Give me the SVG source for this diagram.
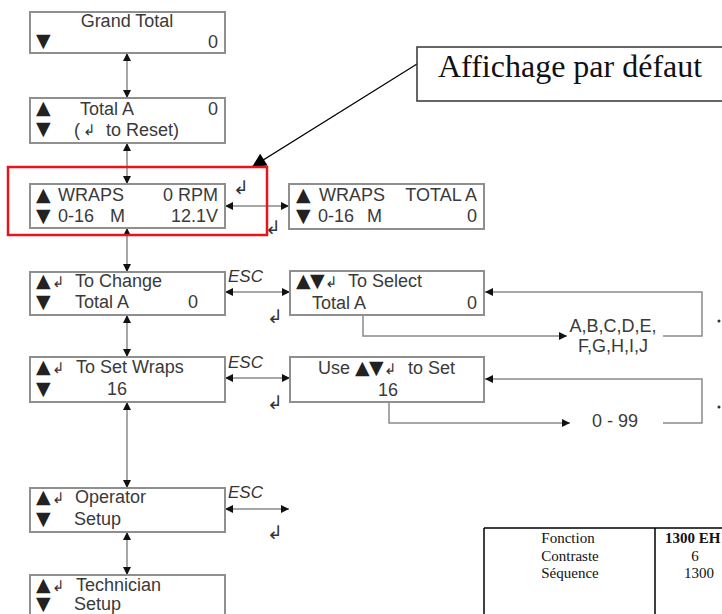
<svg xmlns="http://www.w3.org/2000/svg" width="722" height="614" viewBox="0 0 722 614">
<defs>
<style>
.box{fill:#fff;stroke:#8f8f8f;stroke-width:2}
.t{font-family:"Liberation Sans",Arial,sans-serif;font-size:18px;fill:#3a3a3a}
.sym{font-family:"DejaVu Sans",sans-serif;font-size:19px;fill:#222}
.ent{font-family:"DejaVu Sans",sans-serif;font-size:15px;fill:#333}
.ent2{font-family:"DejaVu Sans",sans-serif;font-size:19px;fill:#333}
.esc{font-family:"Liberation Sans",Arial,sans-serif;font-size:17px;font-style:italic;fill:#333}
.r{text-anchor:end}
.m{text-anchor:middle}
.ln{fill:none;stroke:#8a8a8a;stroke-width:1.5}
.bi{marker-start:url(#ah);marker-end:url(#ah)}
.one{marker-end:url(#ah)}
.tab{font-family:"Liberation Serif","Times New Roman",serif;font-size:15px;fill:#111}
</style>
<marker id="ah" viewBox="0 0 10 10" refX="10" refY="5" markerWidth="10" markerHeight="8" markerUnits="userSpaceOnUse" orient="auto-start-reverse">
<path d="M0,0 L10,5 L0,10 z" fill="#111"/>
</marker>
<marker id="big" viewBox="0 0 10 10" refX="10" refY="5" markerWidth="18" markerHeight="14" markerUnits="userSpaceOnUse" orient="auto">
<path d="M0,0 L10,5 L0,10 z" fill="#000"/>
</marker>
</defs>
<rect width="722" height="614" fill="#fff"/>

<g id="connectors">
<path class="ln bi" d="M127,53 V98"/>
<path class="ln bi" d="M127,143 V184"/>
<path class="ln bi" d="M127,228 V272"/>
<path class="ln bi" d="M127,315 V357"/>
<path class="ln bi" d="M127,402 V488"/>
<path class="ln bi" d="M127,532 V575"/>
<path class="ln bi" d="M225,206 H289"/>
<path class="ln bi" d="M225,292 H290"/>
<path class="ln bi" d="M225,378 H290"/>
<path class="ln bi" d="M225,509 H289"/>
<path class="ln one" d="M363,315 V336 H567"/>
<path class="ln one" d="M663,336 H702 V292 H485"/>
<path class="ln one" d="M389,402 V423 H570"/>
<path class="ln one" d="M663,423 H702 V379 H485"/>
<path d="M417,64 L252,167" fill="none" stroke="#000" stroke-width="1.2" marker-end="url(#big)"/>
<text class="ent2" x="233" y="194">↲</text>
<text class="ent2" x="265" y="234">↲</text>
<text class="esc" x="228" y="282">ESC</text>
<text class="ent2" x="267" y="323">↲</text>
<text class="esc" x="228" y="368">ESC</text>
<text class="ent2" x="267" y="409">↲</text>
<text class="esc" x="228" y="498">ESC</text>
<text class="ent2" x="267" y="539">↲</text>
<circle cx="719" cy="321" r="1.5" fill="#333"/>
<circle cx="719" cy="407" r="1.5" fill="#333"/>
</g>

<g id="grand-total">
<rect class="box" x="30" y="12" width="195" height="41"/>
<text class="t m" x="127" y="27">Grand Total</text>
<text class="sym" x="36" y="47">▼</text>
<text class="t r" x="218" y="48">0</text>
</g>

<g id="total-a">
<rect class="box" x="30" y="98" width="195" height="45"/>
<text class="sym" x="36" y="114">▲</text>
<text class="t" x="80" y="115">Total A</text>
<text class="t r" x="218" y="115">0</text>
<text class="sym" x="36" y="135">▼</text>
<text class="t" x="74" y="136">(</text>
<text class="ent" x="83" y="135">↲</text>
<text class="t" x="106" y="136">to Reset)</text>
</g>

<g id="wraps">
<rect class="box" x="30" y="184" width="195" height="44"/>
<text class="sym" x="36" y="201">▲</text>
<text class="t" x="58" y="201">WRAPS</text>
<text class="t r" x="218" y="201">0 RPM</text>
<text class="sym" x="36" y="222">▼</text>
<text class="t" x="58" y="222">0-16</text>
<text class="t" x="110" y="222">M</text>
<text class="t r" x="218" y="222">12.1V</text>
</g>

<g id="wraps-total">
<rect class="box" x="289" y="184" width="195" height="45"/>
<text class="sym" x="296" y="201">▲</text>
<text class="t" x="319" y="201">WRAPS</text>
<text class="t r" x="477" y="201">TOTAL A</text>
<text class="sym" x="296" y="222">▼</text>
<text class="t" x="318" y="222">0-16</text>
<text class="t" x="367" y="222">M</text>
<text class="t r" x="477" y="222">0</text>
</g>

<g id="to-change">
<rect class="box" x="30" y="272" width="195" height="43"/>
<text class="sym" x="36" y="287">▲</text>
<text class="ent" x="52" y="287">↲</text>
<text class="t" x="75" y="287">To Change</text>
<text class="sym" x="36" y="308">▼</text>
<text class="t" x="75" y="308">Total A</text>
<text class="t r" x="198" y="308">0</text>
</g>

<g id="to-select">
<rect class="box" x="290" y="271" width="194" height="44"/>
<text class="sym" x="296" y="287">▲</text>
<text class="sym" x="310" y="287">▼</text>
<text class="ent" x="325" y="287">↲</text>
<text class="t" x="348" y="287">To Select</text>
<text class="t" x="312" y="309">Total A</text>
<text class="t r" x="477" y="309">0</text>
</g>

<g id="letters">
<text class="t m" x="613" y="332">A,B,C,D,E,</text>
<text class="t m" x="613" y="352">F,G,H,I,J</text>
</g>

<g id="to-set-wraps">
<rect class="box" x="30" y="357" width="195" height="45"/>
<text class="sym" x="36" y="373">▲</text>
<text class="ent" x="52" y="373">↲</text>
<text class="t" x="76" y="373">To Set Wraps</text>
<text class="sym" x="36" y="395">▼</text>
<text class="t" x="107" y="395">16</text>
</g>

<g id="use-to-set">
<rect class="box" x="290" y="357" width="194" height="45"/>
<text class="t" x="318" y="374">Use</text>
<text class="sym" x="355" y="374">▲</text>
<text class="sym" x="369" y="374">▼</text>
<text class="ent" x="384" y="374">↲</text>
<text class="t" x="408" y="374">to Set</text>
<text class="t m" x="388" y="396">16</text>
</g>

<g id="range">
<text class="t" x="592" y="427">0 - 99</text>
</g>

<g id="operator">
<rect class="box" x="30" y="488" width="195" height="44"/>
<text class="sym" x="36" y="503">▲</text>
<text class="ent" x="52" y="503">↲</text>
<text class="t" x="75" y="503">Operator</text>
<text class="sym" x="36" y="525">▼</text>
<text class="t" x="74" y="525">Setup</text>
</g>

<g id="technician">
<rect class="box" x="30" y="575" width="195" height="50"/>
<text class="sym" x="36" y="591">▲</text>
<text class="ent" x="52" y="591">↲</text>
<text class="t" x="76" y="591">Technician</text>
<text class="sym" x="36" y="610">▼</text>
<text class="t" x="74" y="610">Setup</text>
</g>

<g id="default-highlight">
<rect x="8" y="167" width="259" height="68" fill="none" stroke="#e8141b" stroke-width="2.5"/>
</g>

<g id="callout">
<rect x="417" y="47" width="320" height="54" fill="#fff" stroke="#333" stroke-width="1.5"/>
<text x="438" y="77" font-family="'Liberation Serif','Times New Roman',serif" font-size="32" fill="#111">Affichage par défaut</text>
</g>

<g id="table">
<path d="M484,528 H722 M484,528 V614 M655,528 V614" fill="none" stroke="#000" stroke-width="1.5"/>
<text class="tab m" x="568" y="543">Fonction</text>
<text class="tab" x="665" y="543" font-weight="bold" font-size="16">1300 EH</text>
<text class="tab m" x="570" y="561">Contraste</text>
<text class="tab m" x="695" y="561">6</text>
<text class="tab m" x="570" y="578">Séquence</text>
<text class="tab m" x="699" y="578">1300</text>
</g>
</svg>
